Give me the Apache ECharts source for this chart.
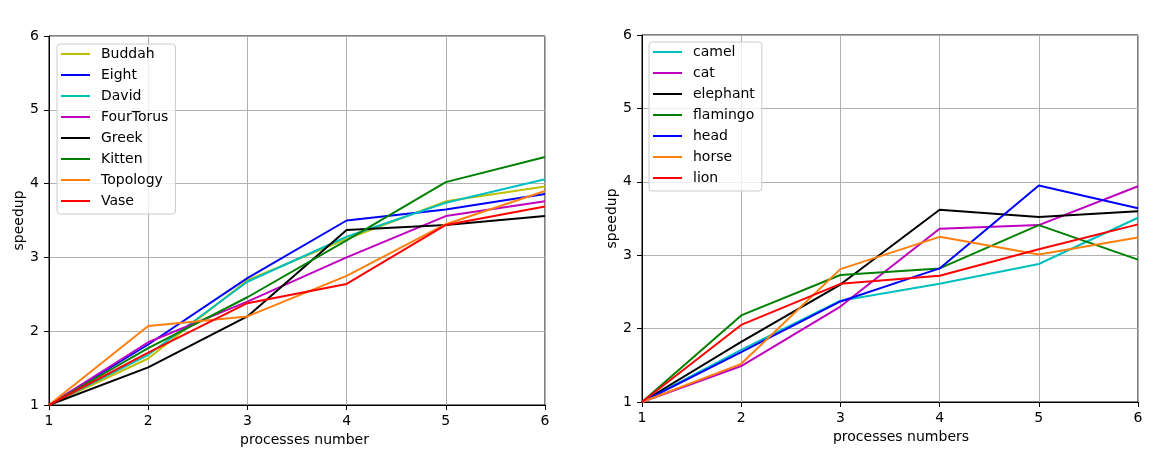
<!DOCTYPE html>
<html>
<head>
<meta charset="utf-8">
<script src="https://cdn.jsdelivr.net/npm/echarts@6/dist/echarts.min.js"></script>
<style>
  html, body { margin: 0; padding: 0; background: #fff; }
  #chart { width: 1173px; height: 458px; }
</style>
</head>
<body>
<div id="chart"></div>
<script>
// x values shared by both panels
var procs = [1, 2, 3, 4, 5, 6];

// left panel
var leftNames = ['Buddah', 'Eight', 'David', 'FourTorus', 'Greek', 'Kitten', 'Topology', 'Vase'];
var leftColors = ['#bfbf00', '#0000ff', '#00bfbf', '#bf00bf', '#000000', '#008000', '#ff7f0e', '#ff0000'];
var buddah   = [1, 1.63, 2.69, 3.25, 3.76, 3.96];
var eight    = [1, 1.82, 2.72, 3.50, 3.65, 3.86];
var david    = [1, 1.68, 2.67, 3.28, 3.74, 4.06];
var fourTorus = [1, 1.85, 2.40, 3.00, 3.56, 3.76];
var greek    = [1, 1.51, 2.20, 3.37, 3.44, 3.56];
var kitten   = [1, 1.77, 2.46, 3.23, 4.02, 4.36];
var topology = [1, 2.07, 2.20, 2.75, 3.45, 3.90];
var vase     = [1, 1.71, 2.38, 2.64, 3.44, 3.69];
var leftData = [buddah, eight, david, fourTorus, greek, kitten, topology, vase];

// right panel
var rightNames = ['camel', 'cat', 'elephant', 'flamingo', 'head', 'horse', 'lion'];
var rightColors = ['#00bfbf', '#bf00bf', '#000000', '#008000', '#0000ff', '#ff7f0e', '#ff0000'];
var camel    = [1, 1.71, 2.38, 2.61, 2.88, 3.51];
var cat      = [1, 1.49, 2.30, 3.36, 3.41, 3.94];
var elephant = [1, 1.82, 2.60, 3.62, 3.52, 3.60];
var flamingo = [1, 2.18, 2.73, 2.82, 3.41, 2.94];
var head     = [1, 1.68, 2.37, 2.82, 3.95, 3.64];
var horse    = [1, 1.52, 2.81, 3.25, 3.01, 3.24];
var lion     = [1, 2.05, 2.61, 2.72, 3.08, 3.42];
var rightData = [camel, cat, elephant, flamingo, head, horse, lion];

var font = 'DejaVu Sans';
// plain line sample for the legend (tiny corner dots keep the 29x14 box)
var lineIcon = 'path://M0,0h0.05v0.05h-0.05z M0,6h29v2h-29z M28.95,13.95h0.05v0.05h-0.05z';

function pairs(vals) {
    return procs.map(function(p, i) { return [p, vals[i]]; });
}

function makeX(idx, name, shift) {
    return {
        type: 'value', gridIndex: idx, min: 1, max: 6, interval: 1,
        name: name, nameLocation: 'middle', nameGap: 27,
        nameTextStyle: { fontFamily: font, fontSize: 14, color: '#000', padding: [0, 0, 0, shift] },
        axisLine: { show: true, lineStyle: { color: '#000', width: 1 } },
        axisTick: { show: true, length: 5, lineStyle: { color: '#000' } },
        axisLabel: { fontFamily: font, fontSize: 14, color: '#000', margin: 9 },
        splitLine: { show: true, lineStyle: { color: '#b0b0b0', width: 1 } }
    };
}

function makeY(idx) {
    return {
        type: 'value', gridIndex: idx, min: 1, max: 6, interval: 1,
        name: 'speedup', nameLocation: 'middle', nameGap: 22,
        nameTextStyle: { fontFamily: font, fontSize: 14, color: '#000' },
        axisLine: { show: true, lineStyle: { color: '#000', width: 1 } },
        axisTick: { show: true, length: 5, lineStyle: { color: '#000' } },
        axisLabel: { fontFamily: font, fontSize: 14, color: '#000', margin: 10 },
        splitLine: { show: true, lineStyle: { color: '#b0b0b0', width: 1 } }
    };
}

function makeLegend(names, left, top) {
    return {
        data: names, orient: 'vertical', left: left, top: top,
        icon: lineIcon,
        itemWidth: 29, itemHeight: 14, itemGap: 7,
        padding: [3, 7, 6, 4],
        backgroundColor: 'rgba(255,255,255,0.8)',
        borderColor: '#cccccc', borderWidth: 1, borderRadius: 3,
        textStyle: { fontFamily: font, fontSize: 14, color: '#000', padding: [0, 0, 0, 6] }
    };
}

var series = [];
leftNames.forEach(function(n, i) {
    series.push({
        name: n, type: 'line', xAxisIndex: 0, yAxisIndex: 0,
        data: pairs(leftData[i]), symbol: 'none', animation: false,
        color: leftColors[i], lineStyle: { width: 2, color: leftColors[i] }
    });
});
rightNames.forEach(function(n, i) {
    series.push({
        name: n, type: 'line', xAxisIndex: 1, yAxisIndex: 1,
        data: pairs(rightData[i]), symbol: 'none', animation: false,
        color: rightColors[i], lineStyle: { width: 2, color: rightColors[i] }
    });
});

var chart = echarts.init(document.getElementById('chart'));
chart.setOption({
    backgroundColor: '#fff',
    animation: false,
    grid: [
        { left: 49, top: 36, width: 496, height: 369, show: true, borderColor: '#000', borderWidth: 1 },
        { left: 642, top: 35, width: 496, height: 367, show: true, borderColor: '#000', borderWidth: 1 }
    ],
    xAxis: [makeX(0, 'processes number', 15), makeX(1, 'processes numbers', 22)],
    yAxis: [makeY(0), makeY(1)],
    legend: [makeLegend(leftNames, 57, 44), makeLegend(rightNames, 649, 42)],
    series: series
});
</script>
</body>
</html>
